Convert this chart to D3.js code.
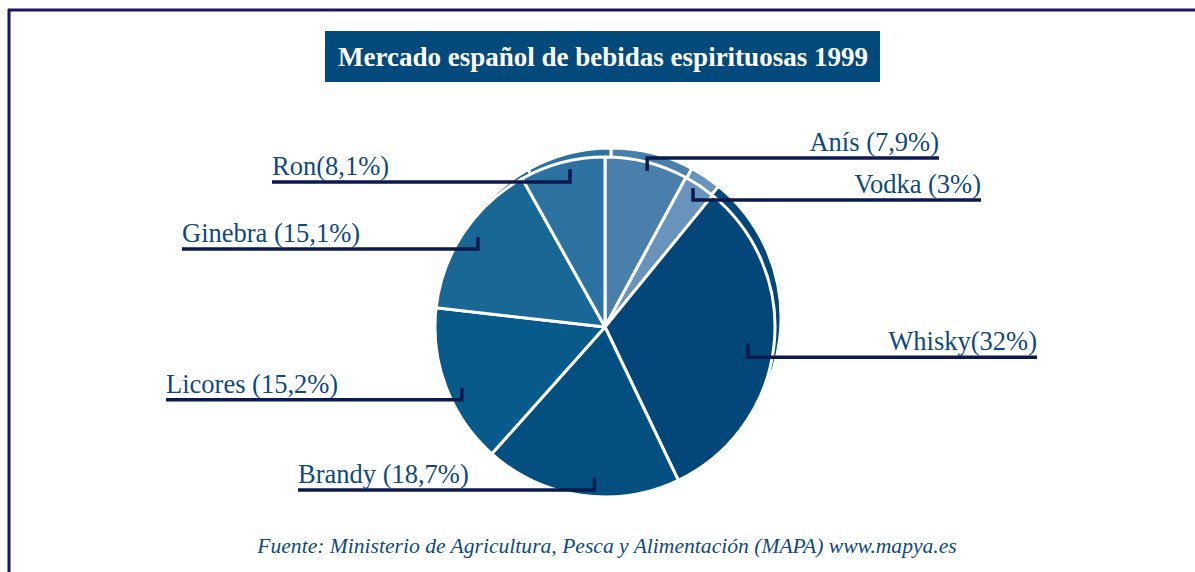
<!DOCTYPE html>
<html>
<head>
<meta charset="utf-8">
<script src="https://cdn.jsdelivr.net/npm/d3@7"></script>
<style>
html,body{margin:0;padding:0;background:#fff;}
svg{display:block;}
</style>
</head>
<body>
<svg id="chart" width="1195" height="572"></svg>
<script>
// ---- data ----
const categories = ["Anís", "Vodka", "Whisky", "Brandy", "Licores", "Ginebra", "Ron"];
const shares = [7.9, 3, 32, 18.7, 15.2, 15.1, 8.1];
const labels = ["Anís (7,9%)", "Vodka (3%)", "Whisky(32%)", "Brandy (18,7%)", "Licores (15,2%)", "Ginebra (15,1%)", "Ron(8,1%)"];
const title = "Mercado español de bebidas espirituosas 1999";
const source = "Fuente: Ministerio de Agricultura, Pesca y Alimentación (MAPA) www.mapya.es";

// ---- styles / layout ----
const sliceColors = ["#4a7eab", "#6893bd", "#03477a", "#034f80", "#075a89", "#186795", "#2c72a0"];
// r: radius of leader anchor, da: angular nudge (deg) from slice mid-angle,
// tick: vertical tick length, end: outer x of the horizontal leader
const labelLayout = [
  {r: 161.6, da: 0.9, tick: -13, end: 939, side: "right"},
  {r: 164.5, da: -1.5, tick: 12, end: 981, side: "right"},
  {r: 143.9, da: -0.4, tick: 14, end: 1037, side: "right"},
  {r: 151.4, da: -4.1, tick: 12, end: 298, side: "left"},
  {r: 155.5, da: -2.1, tick: 12, end: 166, side: "left"},
  {r: 155.7, da: 1.6, tick: 12, end: 182, side: "left"},
  {r: 161.8, da: 2.1, tick: 13, end: 272, side: "left"}
];
const W = 1195, H = 572;
const cx = 605, cy = 327, R = 170;
const textColor = "#0f4a7c";
const leaderColor = "#0b1a4c";
const frameColor = "#1a1560";
const serif = "Liberation Serif, Times New Roman, serif";

const svg = d3.select("#chart");

// frame
svg.append("line").attr("x1", 8).attr("x2", W).attr("y1", 10).attr("y2", 10)
  .attr("stroke", frameColor).attr("stroke-width", 3);
svg.append("line").attr("x1", 9).attr("x2", 9).attr("y1", 9).attr("y2", H)
  .attr("stroke", frameColor).attr("stroke-width", 3);

// title
const tg = svg.append("g");
tg.append("rect").attr("x", 325).attr("y", 31).attr("width", 555).attr("height", 51)
  .attr("fill", "#034a7c");
tg.append("text").attr("x", 603).attr("y", 66).attr("text-anchor", "middle")
  .attr("font-family", serif)
  .attr("font-weight", "bold").attr("font-size", 27).attr("fill", "#fff")
  .text(title);

// pie
const pie = d3.pie().value(d => d).sort(null);
const arcs = pie(shares);
const arc = d3.arc().innerRadius(0).outerRadius(R);

// extruded rim (back copy)
const back = svg.append("g").attr("transform", `translate(${cx + 6},${cy - 9})`);
back.selectAll("path").data(arcs).join("path")
  .attr("d", arc)
  .attr("fill", (d, i) => sliceColors[i])
  .attr("stroke", "#fff").attr("stroke-width", 3).attr("stroke-linejoin", "round");

const front = svg.append("g").attr("transform", `translate(${cx},${cy})`);
front.selectAll("path").data(arcs).join("path")
  .attr("d", arc)
  .attr("fill", (d, i) => sliceColors[i])
  .attr("stroke", "#fff").attr("stroke-width", 3).attr("stroke-linejoin", "round");

// leaders + labels
const lg = svg.append("g");
arcs.forEach((a, i) => {
  const L = labelLayout[i];
  const mid = (a.startAngle + a.endAngle) / 2 + L.da * Math.PI / 180;
  const px = cx + L.r * Math.sin(mid);
  const py = cy - L.r * Math.cos(mid);
  const ly = py + L.tick;
  lg.append("path")
    .attr("d", `M${px},${py}V${ly}H${L.end}`)
    .attr("fill", "none").attr("stroke", leaderColor).attr("stroke-width", 3.5)
    .attr("stroke-linejoin", "miter");
  lg.append("text")
    .attr("x", L.end).attr("y", ly - 7)
    .attr("text-anchor", L.side === "right" ? "end" : "start")
    .attr("font-family", serif)
    .attr("font-size", 26.5).attr("fill", textColor)
    .text(labels[i]);
});

// source
svg.append("text").attr("x", 607).attr("y", 553).attr("text-anchor", "middle")
  .attr("font-family", serif)
  .attr("font-style", "italic").attr("font-size", 21.6).attr("fill", textColor)
  .text(source);
</script>
</body>
</html>
